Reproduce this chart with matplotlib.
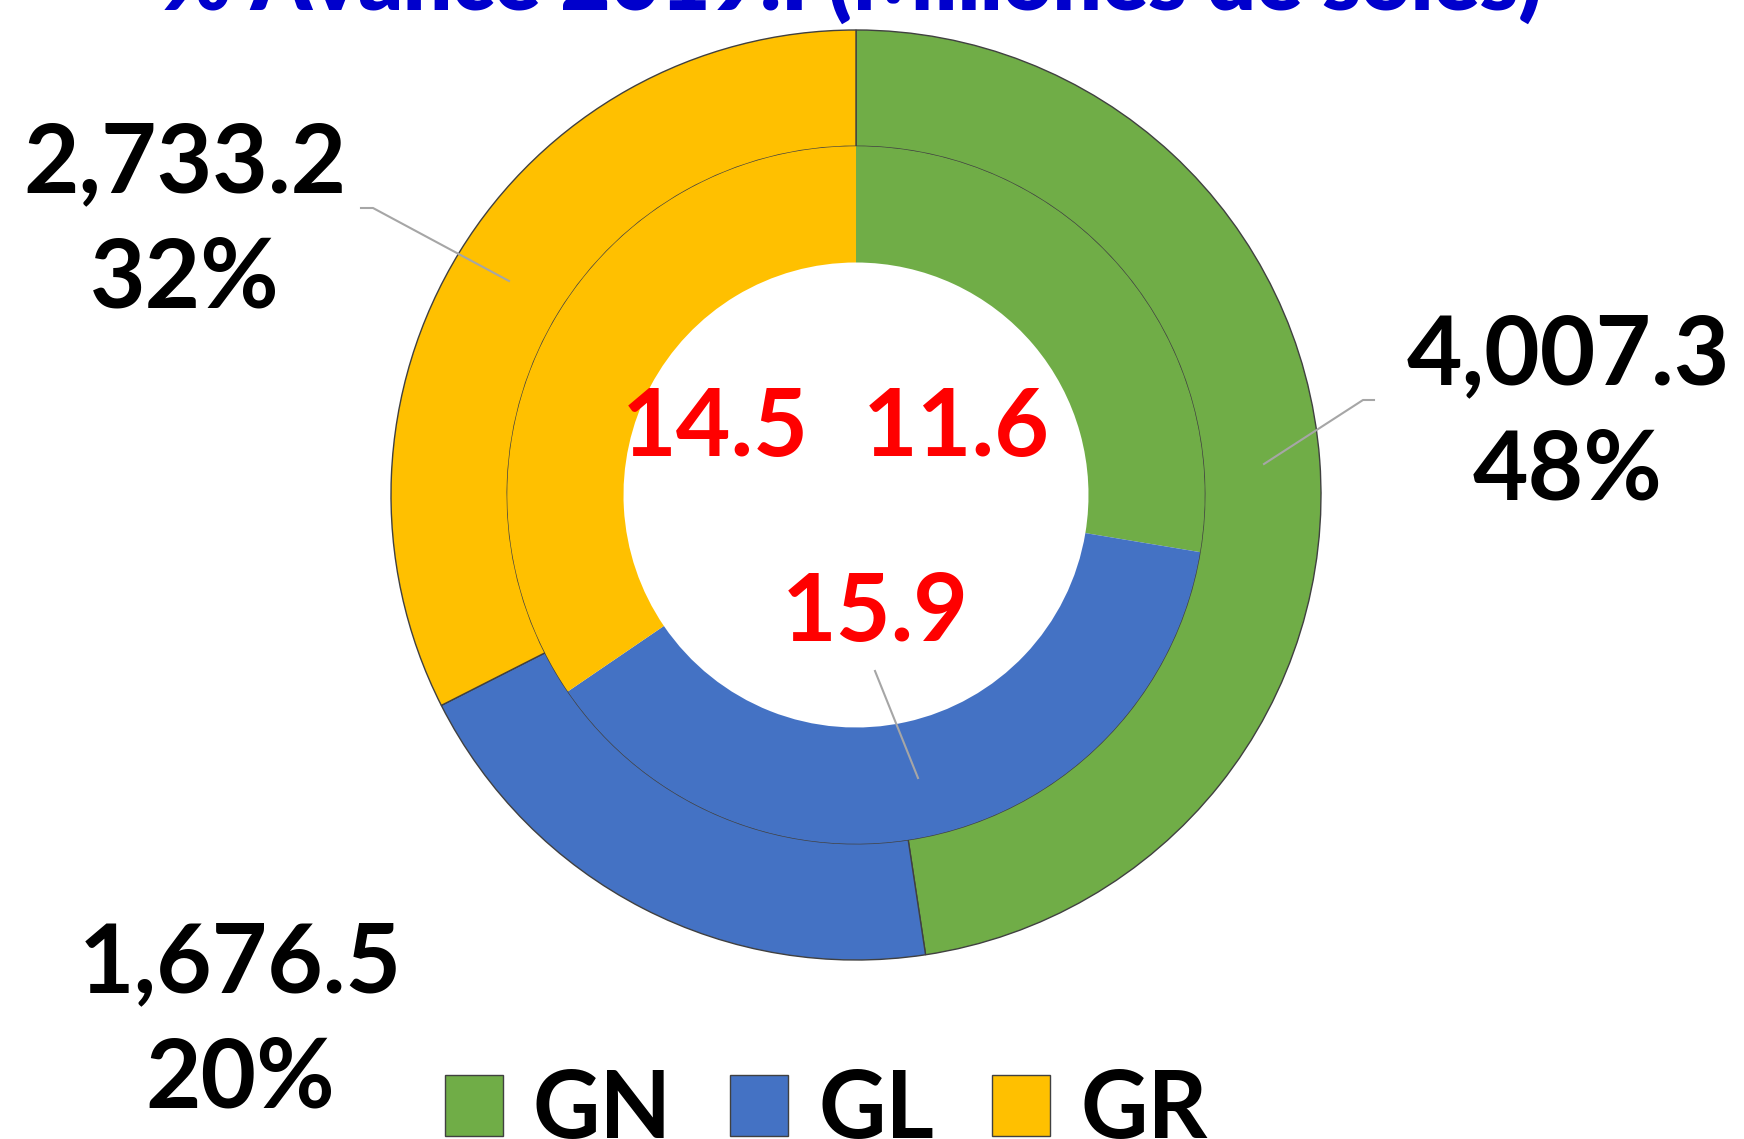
import matplotlib
matplotlib.use('Agg')
import matplotlib.pyplot as plt

plt.rcParams['font.family'] = ['Lato', 'DejaVu Sans']

labels = ['GN', 'GL', 'GR']
colors = ['#70AD47', '#4472C4', '#FFC000']
outer_vals = [4007.3, 1676.5, 2733.2]
inner_vals = [11.6, 15.9, 14.5]
title = '% Avance 2019.I (Millones de soles)'

W, H = 1744, 1139
cx, cy, R = 856, 495, 465

fig = plt.figure(figsize=(W / 100, H / 100), dpi=100)
ax = fig.add_axes([(cx - R) / W, (H - cy - R) / H, 2 * R / W, 2 * R / H])

wedges, _ = ax.pie(outer_vals, colors=colors, startangle=90, counterclock=False,
                   radius=1.0, wedgeprops=dict(width=0.25, edgecolor='#404040', linewidth=1))
ax.pie(inner_vals, colors=colors, startangle=90, counterclock=False,
       radius=0.75, wedgeprops=dict(width=0.25, edgecolor='none'))
ax.set_xlim(-1, 1)
ax.set_ylim(-1, 1)
ax.set_aspect('equal')
ax.axis('off')


def d(px, py):
    # pixel position in the figure -> data coords of the pie axes
    return (px - cx) / R, (cy - py) / R


tot = sum(outer_vals)
outer_text = ['{:,.1f}\n{:.0f}%'.format(v, 100 * v / tot) for v in outer_vals]
outer_pos = [(1568, 414), (240, 1022), (185, 222)]
for t, p in zip(outer_text, outer_pos):
    ax.text(*d(*p), t, ha='center', va='center', fontsize=69, fontweight='bold',
            color='black', linespacing=1.4, clip_on=False)

inner_pos = [(956, 429), (875, 614), (715, 429)]
for v, p in zip(inner_vals, inner_pos):
    ax.text(*d(*p), '{:.1f}'.format(v), ha='center', va='center', fontsize=68,
            fontweight='bold', color='#FF0000', clip_on=False)

# leader lines
for pts in [[(1374, 400), (1363, 400), (1264, 464)],
            [(361, 208), (373, 208), (509, 281)],
            [(875, 671), (918, 778)]]:
    xs, ys = zip(*[d(*p) for p in pts])
    ax.plot(xs, ys, color='#A6A6A6', lw=1.5, clip_on=False)

fig.text(851 / W, 1 - 11 / H, title, ha='center', va='baseline', fontsize=62,
         fontweight='heavy', color='#0000CC')

fig.legend(wedges, labels, loc='center', bbox_to_anchor=(826 / W, 28 / H),
           ncol=3, frameon=False, prop=dict(size=67, weight='bold'),
           handlelength=0.63, handleheight=0.63, handletextpad=0.32,
           columnspacing=0.62, borderpad=0, borderaxespad=0)

fig.savefig('out.png', dpi=100)
